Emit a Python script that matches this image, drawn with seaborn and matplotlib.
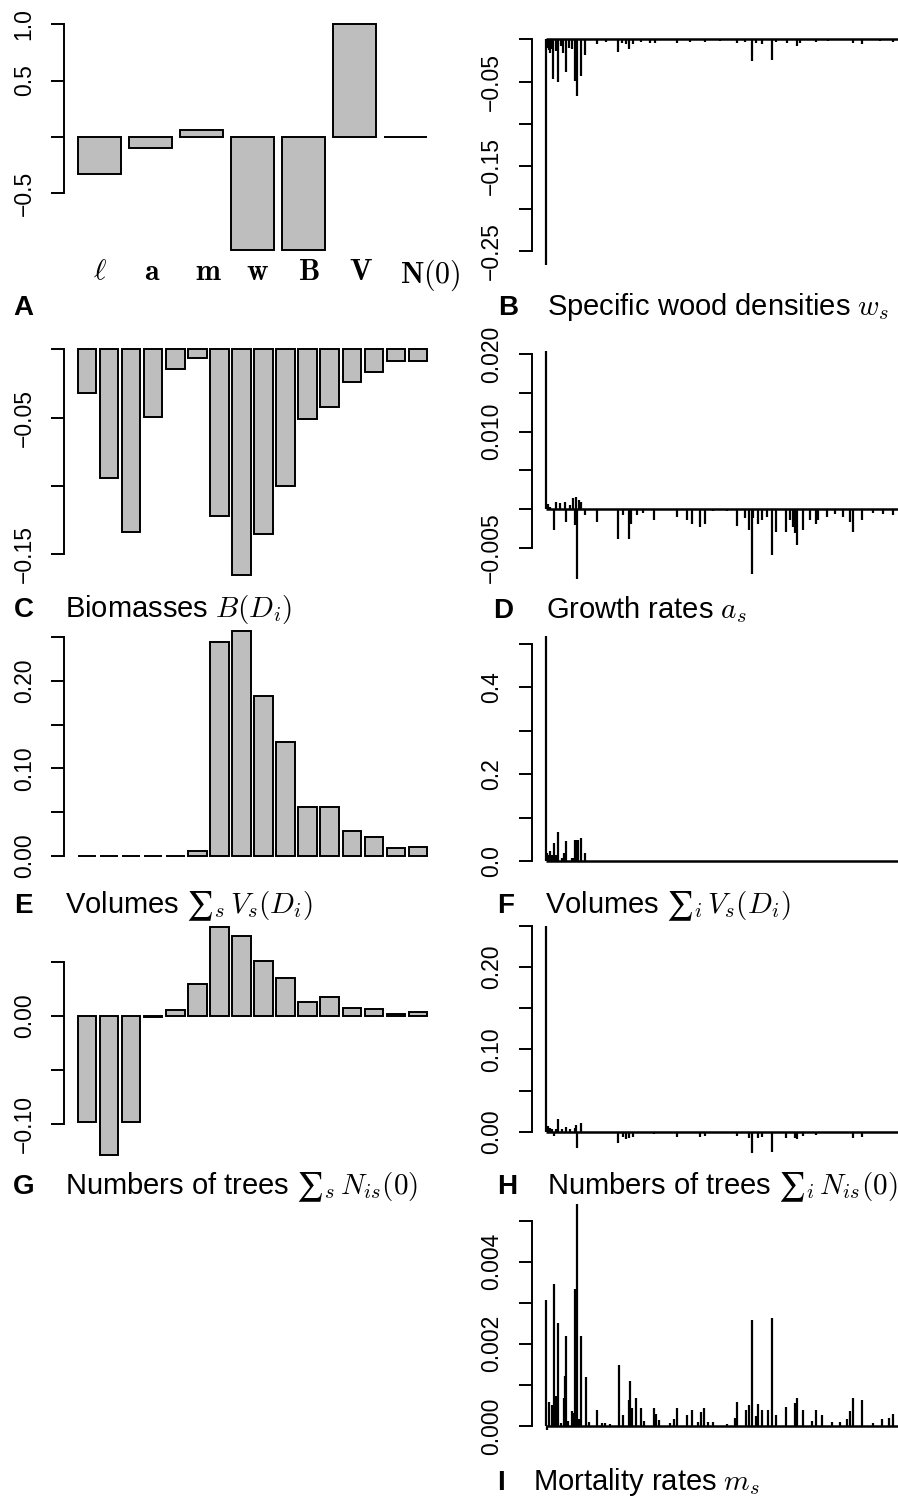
import matplotlib
matplotlib.use("Agg")
import matplotlib.pyplot as plt
import matplotlib.transforms as mtransforms
import seaborn as sns

# ---- panel A: sensitivity to each parameter group
param_labels = [r"$\ell$", r"$\mathbf{a}$", r"$\mathbf{m}$", r"$\mathbf{w}$",
                r"$\mathbf{B}$", r"$\mathbf{V}$", r"$\mathbf{N}(0)$"]
param_sens = [-0.327, -0.097, 0.06, -1.0, -1.0, 1.0, 0.0]

# ---- panels C, E, G: 16 diameter classes
biomass_sens = [-0.0322, -0.0944, -0.134, -0.0498, -0.0146, -0.0066, -0.122, -0.165,
                -0.135, -0.100, -0.051, -0.0422, -0.0237, -0.0168, -0.0083, -0.0083]
volume_class_sens = [0.0, 0.0, 0.0, 0.0, 0.0, 0.0053, 0.2452, 0.2577,
                     0.1825, 0.1306, 0.0554, 0.0557, 0.0283, 0.0218, 0.0092, 0.0103]
trees_class_sens = [-0.0978, -0.1287, -0.0984, -0.0005, 0.0052, 0.0293, 0.0821, 0.0744,
                    0.0509, 0.0355, 0.0127, 0.0176, 0.0071, 0.0068, 0.0022, 0.0034]

# ---- panels B, D, F, H, I: per species (only visible spikes, rest ~0)
N_SPECIES = 360

wood_idx = [1, 2, 4, 5, 7, 8, 11, 13, 16, 18, 21, 24, 27, 30, 32, 36, 40, 52, 61, 73,
            77, 81, 84, 88, 96, 105, 110, 132, 145, 160, 175, 192, 200, 207, 211, 217,
            227, 231, 242, 252, 255, 271, 283, 308, 317, 335, 348]
wood_val = [-0.267, -0.010, -0.013, -0.016, -0.012, -0.047, -0.014, -0.051, -0.008, -0.016,
            -0.039, -0.010, -0.012, -0.049, -0.067, -0.043, -0.018, -0.006, -0.003, -0.015,
            -0.004, -0.006, -0.011, -0.005, -0.003, -0.004, -0.004, -0.004, -0.003, -0.003,
            -0.002, -0.004, -0.003, -0.026, -0.004, -0.005, -0.024, -0.003, -0.004, -0.008,
            -0.004, -0.003, -0.002, -0.004, -0.005, -0.002, -0.003]

growth_idx = [1, 3, 5, 9, 11, 15, 20, 21, 25, 28, 30, 31, 32, 34, 36, 40, 52, 73, 78, 84,
              86, 92, 98, 109, 132, 142, 147, 155, 160, 168, 182, 192, 200, 204, 207, 208,
              213, 217, 222, 227, 231, 241, 245, 248, 250, 252, 258, 265, 271, 273, 282,
              290, 298, 305, 308, 317, 328, 338, 348]
growth_val = [0.0204, 0.0007, 0.0003, -0.0027, 0.0009, 0.0008, 0.0009, -0.0016, 0.0005,
              0.0014, -0.0021, 0.0016, -0.0090, 0.0012, 0.0009, -0.0007, -0.0016, -0.0039,
              -0.0008, -0.0038, -0.0019, -0.0008, -0.0005, -0.0014, -0.0010, -0.0014,
              -0.0019, -0.0023, -0.0019, -0.0003, -0.0003, -0.0022, -0.0012, -0.0027,
              -0.0084, -0.0012, -0.0019, -0.0014, -0.0010, -0.0059, -0.0029, -0.0030,
              -0.0014, -0.0023, -0.0031, -0.0046, -0.0027, -0.0014, -0.0019, -0.0014,
              -0.0010, -0.0006, -0.0010, -0.0016, -0.0029, -0.0014, -0.0005, -0.0006, -0.0008]

volume_sp_idx = [1, 2, 3, 5, 7, 9, 11, 13, 17, 19, 21, 27, 28, 30, 32, 33, 36, 40]
volume_sp_val = [0.518, 0.018, 0.014, 0.022, 0.014, 0.041, 0.014, 0.066, 0.006, 0.018,
                 0.045, 0.006, 0.008, 0.048, 0.048, 0.048, 0.052, 0.018]

trees_sp_idx = [1, 3, 5, 7, 9, 11, 13, 17, 21, 25, 30, 31, 32, 36, 40, 73, 78, 81, 84, 88,
                109, 132, 155, 160, 192, 204, 207, 213, 217, 227, 241, 250, 252, 258, 271,
                308, 317]
trees_sp_val = [0.250, 0.0069, 0.0048, 0.003, -0.0052, 0.0036, 0.0157, 0.0036, 0.0056,
                0.003, 0.0048, 0.0089, -0.019, 0.0109, -0.001, -0.0133, -0.006, -0.0085,
                -0.0073, -0.006, -0.003, -0.006, -0.006, -0.005, -0.005, -0.007, -0.0254,
                -0.007, -0.006, -0.0242, -0.007, -0.007, -0.0085, -0.005, -0.004, -0.007,
                -0.006]

mort_idx = [1, 2, 4, 7, 9, 11, 13, 16, 19, 20, 21, 23, 27, 28, 30, 32, 34, 36, 41, 44,
            52, 57, 60, 65, 74, 78, 84, 85, 87, 91, 96, 99, 109, 111, 114, 125, 129, 132,
            142, 147, 153, 156, 159, 163, 168, 182, 190, 192, 201, 204, 207, 211, 213,
            217, 223, 227, 231, 241, 250, 252, 258, 267, 271, 277, 287, 295, 302, 305,
            308, 317, 328, 337, 344, 348]
mort_val = [0.00307, -0.0001, 0.00058, 0.00052, 0.00345, 0.00074, 0.0025, 0.00008, 0.00069,
            0.00121, 0.0022, 0.00012, 0.00036, 0.00031, 0.00333, 0.00541, 0.00016, 0.0022,
            0.00119, 0.0001, 0.0004, 0.00006, 0.00006, 0.00004, 0.00148, 0.00027, 0.00062,
            0.00109, 0.00044, 0.00069, 0.00043, 0.00012, 0.00043, 0.00028, 0.00015,
            0.00008, 0.00018, 0.00044, 0.00027, 0.00038, 0.0001, 0.00035, 0.00043, 0.0001,
            0.0001, 0.00004, 0.0002, 0.00058, 0.0004, 0.0005, 0.00258, 0.00023, 0.00054,
            0.0004, 0.0004, 0.00262, 0.00026, 0.00047, 0.00056, 0.00068, 0.00039, 0.00012,
            0.00038, 0.00027, 0.0001, 0.0001, 0.00018, 0.00036, 0.00068, 0.00064, 0.00006,
            0.00016, 0.0002, 0.00028]

M = "\u2212"

sns.set_theme(style="ticks")
plt.rcParams["font.family"] = ["Liberation Sans", "DejaVu Sans"]
plt.rcParams["mathtext.fontset"] = "cm"
plt.rcParams["axes.linewidth"] = 1.4
for key in ["text.color", "axes.labelcolor", "xtick.color", "ytick.color", "axes.edgecolor"]:
    plt.rcParams[key] = "black"

W, H = 898, 1499
fig = plt.figure(figsize=(W / 100, H / 100), dpi=100, facecolor="white")


def add_ax(left, top, width, height):
    return fig.add_axes([left / W, 1 - (top + height) / H, width / W, height / H])


def r_range(vals):
    lo, hi = min(min(vals), 0), max(max(vals), 0)
    d = 0.04 * (hi - lo)
    return lo - d, hi + d


def style_y(ax, ticks, labels):
    ax.set_yticks(ticks)
    ax.set_yticklabels(labels, rotation=90, va="center")
    ax.spines["left"].set_bounds(min(ticks), max(ticks))
    for s in ["top", "right", "bottom"]:
        ax.spines[s].set_visible(False)
    ax.tick_params(axis="y", direction="out", length=9.4, width=1.4, pad=11,
                   labelsize=16.5, colors="black")
    ax.set_xlabel("")
    ax.set_ylabel("")


def bar_panel(ax, values, ticks, labels):
    n = len(values)
    sns.barplot(x=list(range(n)), y=values, color="#BEBEBE", edgecolor="black",
                linewidth=1.4, width=1 / 1.2, saturation=1, errorbar=None, ax=ax)
    span = 1.2 * n - 0.2
    ax.set_xlim((-0.5 - 0.04 * span) / 1.2, (span - 0.5 + 0.04 * span) / 1.2)
    ax.set_ylim(*r_range(values))
    ax.set_xticks([])
    style_y(ax, ticks, labels)


def spike_panel(ax, idx, vals, ticks, labels):
    ax.hlines(0, 1, N_SPECIES, color="black", lw=1.8)
    ax.vlines(idx, 0, vals, color="black", lw=1.6)
    ax.set_xlim(1 - 0.04 * (N_SPECIES - 1), N_SPECIES + 0.04 * (N_SPECIES - 1))
    ax.set_ylim(*r_range(vals))
    ax.set_xticks([])
    style_y(ax, ticks, labels)


def panel_title(letter, x_letter, x_text, baseline, text=None):
    fig.text(x_letter / W, 1 - baseline / H, letter, fontsize=20, fontweight="bold",
             va="baseline", ha="left")
    if text:
        fig.text(x_text / W, 1 - baseline / H, text, fontsize=21, va="baseline", ha="left")


LX, LW = 64, 377
RX, RW = 531.7, 387.7

# A
ax = add_ax(LX, 15, LW, 244)
bar_panel(ax, param_sens, [-0.5, 0.0, 0.5, 1.0], [M + "0.5", "", "0.5", "1.0"])
ax.set_xticks(range(len(param_labels)))
ax.set_xticklabels(param_labels, fontsize=21.5, ha="left")
ax.tick_params(axis="x", length=0, pad=-1)
shift = mtransforms.ScaledTranslation(-6 / 100, 0, fig.dpi_scale_trans)
for lab in ax.get_xticklabels():
    lab.set_transform(lab.get_transform() + shift)
panel_title("A", 13, 0, 315)

# B
ax = add_ax(RX, 30.3, RW, 244)
spike_panel(ax, wood_idx, wood_val, [-0.25, -0.20, -0.15, -0.10, -0.05, 0.0],
            [M + "0.25", "", M + "0.15", "", M + "0.05", ""])
panel_title("B", 498, 547, 315, r"Specific wood densities $w_s$")

# C
ax = add_ax(LX, 340.3, LW, 243.4)
bar_panel(ax, biomass_sens, [-0.15, -0.10, -0.05, 0.0], [M + "0.15", "", M + "0.05", ""])
panel_title("C", 14, 65, 617, r"Biomasses $B(D_i)$")

# D
ax = add_ax(RX, 342, RW, 246)
spike_panel(ax, growth_idx, growth_val, [-0.005, 0.0, 0.005, 0.010, 0.015, 0.020],
            [M + "0.005", "", "", "0.010", "", "0.020"])
panel_title("D", 493, 546, 618, r"Growth rates $a_s$")

# E
ax = add_ax(LX, 621.7, LW, 243)
bar_panel(ax, volume_class_sens, [0.0, 0.05, 0.10, 0.15, 0.20, 0.25],
          ["0.00", "", "0.10", "", "0.20", ""])
panel_title("E", 14, 65, 913, r"Volumes $∑_s\, V_s(D_i)$")

# F
ax = add_ax(RX, 627, RW, 243)
spike_panel(ax, volume_sp_idx, volume_sp_val, [0.0, 0.1, 0.2, 0.3, 0.4, 0.5],
            ["0.0", "", "0.2", "", "0.4", ""])
panel_title("F", 497, 545, 913, r"Volumes $∑_i\, V_s(D_i)$")

# G
ax = add_ax(LX, 918.3, LW, 245.7)
bar_panel(ax, trees_class_sens, [-0.10, -0.05, 0.0, 0.05], [M + "0.10", "", "0.00", ""])
panel_title("G", 13, 65, 1194, r"Numbers of trees $∑_s\, N_{is}(0)$")

# H
ax = add_ax(RX, 916.7, RW, 245.3)
spike_panel(ax, trees_sp_idx, trees_sp_val, [0.0, 0.05, 0.10, 0.15, 0.20, 0.25],
            ["0.00", "", "0.10", "", "0.20", ""])
panel_title("H", 497, 547, 1194, r"Numbers of trees $∑_i\, N_{is}(0)$")

# I
ax = add_ax(RX, 1194.6, RW, 244.5)
spike_panel(ax, mort_idx, mort_val, [0.0, 0.001, 0.002, 0.003, 0.004, 0.005],
            ["0.000", "", "0.002", "", "0.004", ""])
panel_title("I", 497, 533, 1490, r"Mortality rates $m_s$")

fig.savefig("out.png", dpi=100, facecolor="white")
